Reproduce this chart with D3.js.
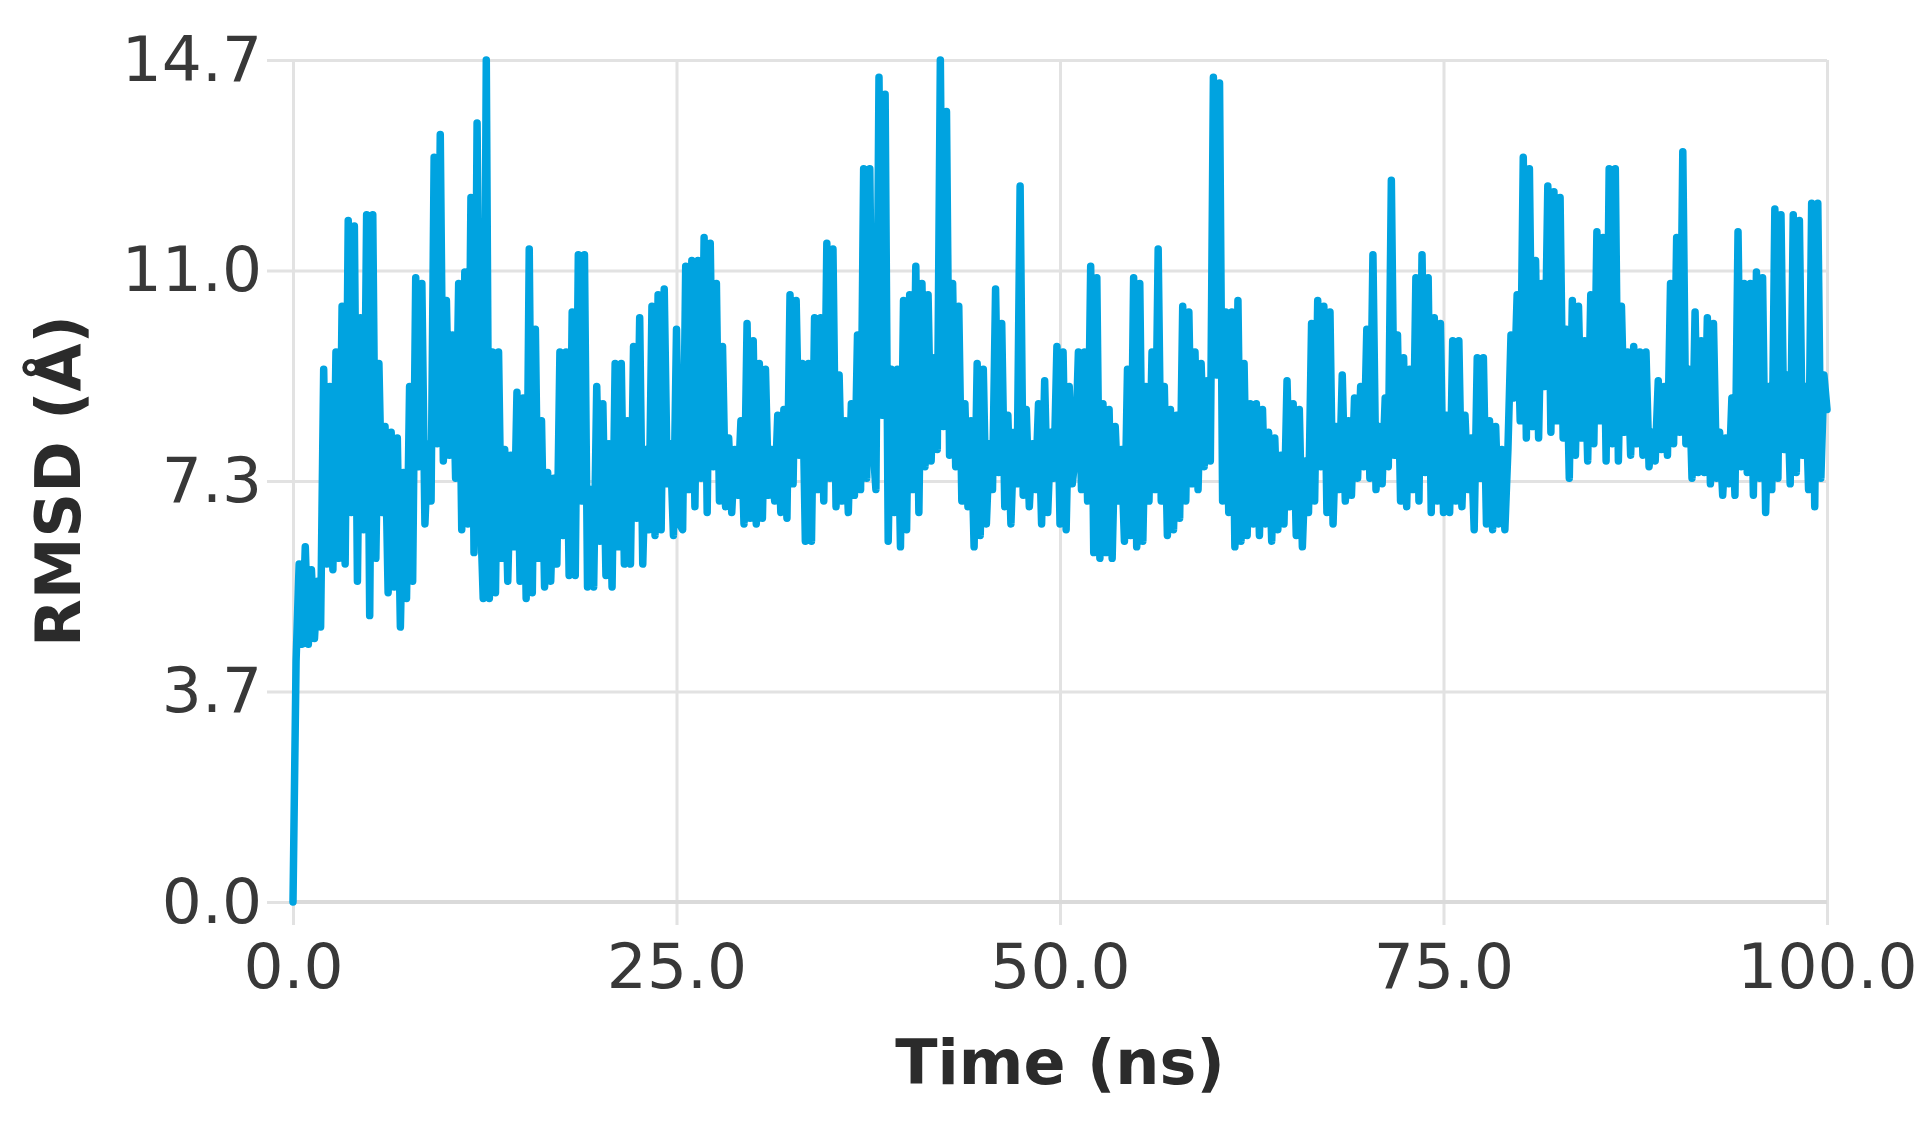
<!DOCTYPE html>
<html>
<head>
<meta charset="utf-8">
<script src="https://cdn.jsdelivr.net/npm/d3@7"></script>
<style>
  html, body { margin: 0; padding: 0; background: #ffffff; }
  svg { display: block; }
</style>
</head>
<body>
<svg id="chart" width="1930" height="1126"></svg>
<script>
// ---- Data ----
const timeStartNs = 0;
const timeStepNs = 0.2;   // sampling interval of the trajectory values below

const rmsd = [
  // 0 – 12.4 ns
  0, 4.2, 5.9, 4.5, 6.2, 4.5, 5.8, 4.6, 5.6, 4.8,
  9.3, 5.9, 9.0, 5.8, 9.6, 6.0, 10.4, 5.9, 11.9, 6.8,
  11.8, 5.6, 10.2, 6.5, 12.0, 5.0, 12.0, 6.0, 9.4, 6.8,
  8.3, 5.4, 8.2, 5.5, 8.1, 4.8, 7.5, 5.3, 9.0, 5.6,
  10.9, 7.6, 10.8, 6.6, 8.0, 7.0, 13.0, 8.0, 13.4, 7.7,
  10.5, 7.8, 9.9, 7.4, 10.8, 6.5, 11.0, 6.6, 12.3, 6.1,
  13.6, 7.0, 5.3,
  // 12.6 – 25.2 ns
  14.7, 5.3, 9.6, 5.4, 9.6, 6.0, 7.9, 5.6, 7.8, 6.2,
  8.9, 5.6, 8.8, 5.3, 11.4, 5.4, 10.0, 6.0, 8.4, 5.5,
  7.5, 5.6, 7.4, 5.9, 9.6, 6.4, 9.6, 5.7, 10.3, 5.7,
  11.3, 7.0, 11.3, 5.5, 7.2, 5.5, 9.0, 6.3, 8.7, 5.7,
  8.0, 5.5, 9.4, 6.2, 9.4, 5.9, 8.4, 5.9, 9.7, 6.7,
  10.2, 5.9, 7.9, 6.5, 10.4, 6.4, 10.6, 6.5, 10.7, 7.3,
  8.0, 6.4, 10.0, 6.6,
  // 25.4 – 37.8 ns
  6.5, 11.1, 7.2, 11.2, 6.9, 11.2, 7.4, 11.6, 6.8, 11.5,
  7.6, 10.8, 7.0, 9.7, 6.9, 8.1, 6.8, 7.9, 7.1, 8.4,
  6.6, 10.1, 6.7, 9.8, 6.6, 9.4, 6.7, 9.3, 7.1, 7.9,
  7.0, 8.5, 6.8, 8.6, 6.7, 10.6, 7.3, 10.5, 7.8, 9.4,
  6.3, 9.4, 6.3, 10.2, 7.2, 10.2, 7.0, 11.5, 7.4, 11.4,
  6.9, 9.2, 7.0, 8.4, 6.8, 8.7, 7.1, 9.9, 7.2, 12.8,
  7.4, 12.8, 8.0,
  // 38.0 – 50.2 ns
  7.2, 14.4, 8.5, 14.1, 6.3, 9.3, 6.8, 9.3, 6.2, 10.5,
  6.5, 10.6, 7.2, 11.1, 6.8, 10.8, 7.6, 10.6, 7.7, 9.5,
  7.9, 14.7, 8.3, 13.8, 7.8, 10.8, 7.6, 10.4, 7.0, 8.7,
  6.9, 8.4, 6.2, 9.4, 6.4, 9.3, 6.6, 8.0, 7.2, 10.7,
  7.5, 10.1, 6.9, 8.5, 6.6, 8.2, 7.3, 12.5, 7.1, 8.6,
  6.9, 8.0, 7.2, 8.7, 6.6, 9.1, 6.8, 8.2, 7.4, 9.7,
  6.6, 9.6,
  // 50.4 – 62.8 ns
  6.5, 9.0, 7.3, 7.8, 9.6, 7.2, 9.6, 7.0, 11.1, 6.1,
  10.9, 6.0, 8.7, 6.1, 8.6, 6.0, 8.3, 7.0, 7.9, 6.3,
  9.3, 6.4, 10.9, 6.2, 10.8, 6.3, 9.0, 7.0, 9.6, 7.2,
  11.4, 7.0, 9.0, 6.4, 8.6, 6.5, 8.5, 6.7, 10.4, 7.0,
  10.3, 7.3, 9.6, 7.2, 9.4, 7.6, 9.1, 7.7, 14.4, 9.2,
  14.3, 7.0, 10.3, 6.8, 10.3, 6.2, 10.5, 6.3, 9.4, 6.4,
  8.7, 6.6, 8.7,
  // 63.0 – 75.2 ns
  6.4, 8.6, 6.6, 8.2, 6.3, 8.1, 6.5, 7.8, 6.6, 9.1,
  6.9, 8.7, 6.4, 8.6, 6.2, 7.7, 6.8, 10.1, 7.0, 10.5,
  7.6, 10.4, 6.8, 10.3, 6.6, 8.3, 7.2, 9.2, 7.0, 8.4,
  7.1, 8.8, 7.4, 9.0, 7.6, 10.0, 7.4, 11.3, 7.2, 8.3,
  7.3, 8.8, 7.6, 12.6, 7.8, 9.9, 7.0, 9.5, 6.9, 9.3,
  7.2, 10.9, 7.0, 11.3, 7.5, 10.9, 6.8, 10.2, 7.0, 10.1,
  6.8, 8.5,
  // 75.4 – 87.8 ns
  6.8, 9.8, 7.0, 9.8, 6.9, 8.5, 7.2, 8.1, 6.5, 9.5,
  7.4, 9.5, 6.6, 8.4, 6.5, 8.3, 6.6, 7.9, 6.5, 7.9,
  9.9, 8.8, 10.6, 8.4, 13.0, 8.1, 12.8, 8.3, 11.2, 8.1,
  10.8, 9.0, 12.5, 8.2, 12.4, 8.4, 12.3, 8.1, 10.0, 7.4,
  10.5, 7.8, 10.4, 8.1, 9.8, 7.7, 10.6, 8.0, 11.7, 8.4,
  11.6, 7.7, 12.8, 8.0, 12.8, 7.7, 10.4, 8.2, 9.6, 7.8,
  9.7, 8.0, 9.6,
  // 88.0 – 100.0 ns
  7.8, 9.6, 7.6, 8.2, 7.7, 9.1, 7.9, 9.0, 7.8, 10.8,
  8.0, 11.6, 8.2, 13.1, 8.0, 9.3, 7.4, 10.3, 7.5, 9.8,
  7.5, 10.2, 7.3, 10.1, 7.4, 8.2, 7.1, 8.1, 7.3, 8.8,
  7.1, 11.7, 7.6, 10.8, 7.5, 10.8, 7.1, 11.0, 7.4, 10.9,
  6.8, 9.0, 7.2, 12.1, 7.4, 12.0, 7.9, 9.2, 7.3, 12.0,
  7.5, 11.9, 7.8, 9.0, 7.2, 12.2, 6.9, 12.2, 7.4, 9.2,
  8.6
];

const xTickValues = [0, 25, 50, 75, 100];
const xTickLabels = ["0.0", "25.0", "50.0", "75.0", "100.0"];
const yTickValues = [0, 3.675, 7.35, 11.025, 14.7];
const yTickLabels = ["0.0", "3.7", "7.3", "11.0", "14.7"];
const xTitle = "Time (ns)";
const yTitle = "RMSD (Å)";

const points = rmsd.map((v, i) => ({ t: timeStartNs + i * timeStepNs, v: v }));

// ---- Layout ----
const plotLeft = 293, plotRight = 1827, plotTop = 60, plotBottom = 902;
const svg = d3.select("#chart");
const FONT = "'DejaVu Sans', 'Noto Sans', sans-serif";

const x = d3.scaleLinear().domain([0, 100]).range([plotLeft, plotRight]);
const y = d3.scaleLinear().domain([0, 14.7]).range([plotBottom, plotTop]);

// Horizontal grid + y labels (axis placed at the right edge, ticks reaching past the left edge)
const yAxis = d3.axisLeft(y)
  .tickValues(yTickValues)
  .tickFormat((d, i) => yTickLabels[i])
  .tickSize(plotRight - 267)
  .tickPadding(5);
const gy = svg.append("g").attr("transform", `translate(${plotRight},0)`).call(yAxis);
gy.select(".domain").remove();
gy.selectAll(".tick line").attr("stroke", "#e2e2e2").attr("stroke-width", 3);
gy.selectAll(".tick text")
  .attr("fill", "#383838").attr("font-family", FONT).attr("font-size", 63);

// Vertical grid + x labels (axis placed at the top edge, ticks reaching below the bottom)
const xAxis = d3.axisBottom(x)
  .tickValues(xTickValues)
  .tickFormat((d, i) => xTickLabels[i])
  .tickSize(925 - plotTop)
  .tickPadding(18);
const gx = svg.append("g").attr("transform", `translate(0,${plotTop})`).call(xAxis);
gx.select(".domain").remove();
gx.selectAll(".tick line").attr("stroke", "#e2e2e2").attr("stroke-width", 3);
gx.selectAll(".tick text")
  .attr("fill", "#383838").attr("font-family", FONT).attr("font-size", 63);

// Bottom axis line (slightly stronger)
svg.append("line")
  .attr("x1", x(0)).attr("x2", x(100))
  .attr("y1", y(0)).attr("y2", y(0))
  .attr("stroke", "#dadada").attr("stroke-width", 4);

// Data line
const line = d3.line().x(d => x(d.t)).y(d => y(d.v));
svg.append("path")
  .datum(points)
  .attr("d", line)
  .attr("fill", "none")
  .attr("stroke", "#00a3e0")
  .attr("stroke-width", 7.5)
  .attr("stroke-linejoin", "round")
  .attr("stroke-linecap", "round");

// Axis titles
svg.append("text")
  .attr("x", (plotLeft + plotRight) / 2).attr("y", 1084)
  .attr("text-anchor", "middle")
  .attr("font-family", FONT).attr("font-weight", "bold").attr("font-size", 62)
  .attr("fill", "#2b2b2b")
  .text(xTitle);

svg.append("text")
  .attr("transform", `translate(80,${(plotTop + plotBottom) / 2}) rotate(-90)`)
  .attr("text-anchor", "middle")
  .attr("font-family", FONT).attr("font-weight", "bold").attr("font-size", 62)
  .attr("fill", "#2b2b2b")
  .text(yTitle);
</script>
</body>
</html>
